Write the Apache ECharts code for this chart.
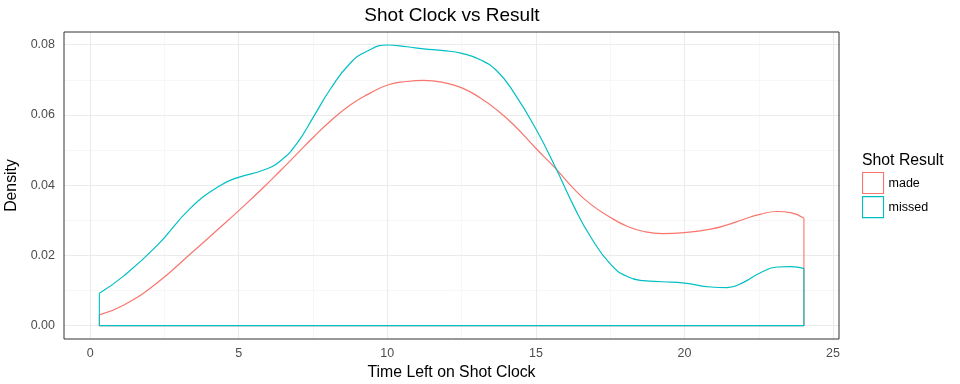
<!DOCTYPE html>
<html>
<head>
<meta charset="utf-8">
<script src="https://cdn.jsdelivr.net/npm/echarts@6/dist/echarts.min.js"></script>
<style>
html,body{margin:0;padding:0;background:#fff;}
#chart{width:960px;height:384px;}
</style>
</head>
<body>
<div id="chart"></div>
<script>
// ---- data ----
var timeLeft = [0.31, 1.12, 2.24, 3.37, 4.38, 5.02, 5.84, 6.4, 6.96, 7.52, 8.08, 8.75, 9.31, 10.01, 10.66, 11.22, 11.9, 12.51, 13.13, 13.69, 14.25, 15.02, 15.69, 16.27, 16.84, 17.51, 18.07, 18.63, 19.25, 20.0, 20.88, 21.44, 22.0, 22.54, 23.12, 23.57, 24.02];
var madeDensity = [0.00305, 0.0058, 0.0121, 0.0204, 0.028, 0.0329, 0.0394, 0.0441, 0.0489, 0.0537, 0.0582, 0.0628, 0.0657, 0.0685, 0.0695, 0.0698, 0.0692, 0.0677, 0.0648, 0.0614, 0.0572, 0.0503, 0.0445, 0.0390, 0.0346, 0.0308, 0.0283, 0.0268, 0.0262, 0.0265, 0.0275, 0.0287, 0.0303, 0.0317, 0.0325, 0.0322, 0.0306];
var missedDensity = [0.00922, 0.0141, 0.0227, 0.0334, 0.0399, 0.0423, 0.0443, 0.0469, 0.0519, 0.0595, 0.0673, 0.0747, 0.0781, 0.0799, 0.0794, 0.0788, 0.0783, 0.0775, 0.0757, 0.0725, 0.0665, 0.0557, 0.0445, 0.0341, 0.0253, 0.0175, 0.0140, 0.0128, 0.0125, 0.0121, 0.0110, 0.0108, 0.0124, 0.0150, 0.0167, 0.0168, 0.0163];
var xMajorTicks = [0, 5, 10, 15, 20, 25];
var xMinorTicks = [2.5, 7.5, 12.5, 17.5, 22.5];
var yMajorTicks = [0, 0.02, 0.04, 0.06, 0.08];
var yMinorTicks = [0.01, 0.03, 0.05, 0.07];
var seriesNames = ['made', 'missed'];
var seriesColors = ['#F8766D', '#00BFC4'];

// ---- build ----
var FONT = 'Liberation Sans, Arial, Helvetica, sans-serif';
function pairs(xs, ys) { return xs.map(function (x, i) { return [x, ys[i]]; }); }
function edges(xs, ys) {
  var n = xs.length - 1;
  return [[xs[0], ys[0]], [xs[0], 0], [xs[n], 0], [xs[n], ys[n]]];
}
function gridLines(vals, key, width, color, z) {
  return {
    type: 'line', data: [], z: z, silent: true,
    markLine: {
      z: z, silent: true, animation: false, symbol: ['none', 'none'],
      label: { show: false },
      lineStyle: { type: 'solid', width: width, color: color },
      emphasis: { disabled: true },
      data: vals.map(function (v) { var o = {}; o[key] = v; return o; })
    }
  };
}

var dens = [madeDensity, missedDensity];
var series = [
  gridLines(xMinorTicks, 'xAxis', 0.6, '#f2f2f2', 0),
  gridLines(yMinorTicks, 'yAxis', 0.6, '#f2f2f2', 0),
  gridLines(xMajorTicks, 'xAxis', 1.1, '#ebebeb', 1),
  gridLines(yMajorTicks, 'yAxis', 1.1, '#ebebeb', 1)
];
seriesNames.forEach(function (name, i) {
  series.push({
    name: name, type: 'line', smooth: 0.5, showSymbol: false, symbol: 'none',
    z: 10 + i, lineStyle: { color: seriesColors[i], width: 1.2 },
    itemStyle: { color: seriesColors[i] },
    data: pairs(timeLeft, dens[i])
  });
  series.push({
    name: name, type: 'line', smooth: false, showSymbol: false, symbol: 'none',
    z: 10 + i, lineStyle: { color: seriesColors[i], width: 1.1 },
    itemStyle: { color: seriesColors[i] },
    data: edges(timeLeft, dens[i])
  });
});

var chart = echarts.init(document.getElementById('chart'), null, { renderer: 'canvas' });
chart.setOption({
  animation: false,
  backgroundColor: '#fff',
  textStyle: { fontFamily: FONT },
  title: [{
    text: 'Shot Clock vs Result', left: 452, top: 6, padding: 0, textAlign: 'center',
    textStyle: { fontFamily: FONT, fontSize: 19, fontWeight: 'normal', color: '#000' }
  }, {
    text: 'Shot Result', left: 862, top: 153, padding: 0,
    textStyle: { fontFamily: FONT, fontSize: 15.8, fontWeight: 'normal', color: '#000' }
  }],
  legend: {
    orient: 'vertical', left: 862, top: 172, padding: 0,
    itemWidth: 21, itemHeight: 21, itemGap: 2, icon: 'rect',
    selectedMode: false,
    textStyle: { fontFamily: FONT, fontSize: 12.5, color: '#000' },
    data: seriesNames.map(function (n, i) {
      return { name: n, icon: 'rect', itemStyle: { color: '#fff', borderColor: seriesColors[i], borderWidth: 1.1 } };
    })
  },
  grid: {
    left: 64, top: 32, width: 775, height: 307, show: true, z: 20,
    containLabel: false, outerBoundsMode: 'none',
    borderColor: '#333', borderWidth: 1, backgroundColor: 'transparent'
  },
  xAxis: {
    type: 'value', min: -0.88, max: 25.2,
    name: 'Time Left on Shot Clock', nameLocation: 'middle', nameGap: 21,
    nameTextStyle: { fontFamily: FONT, fontSize: 15.8, color: '#000' },
    axisLine: { show: false },
    axisTick: { show: true, length: 3.5, lineStyle: { color: '#333', width: 1 }, customValues: xMajorTicks },
    axisLabel: { margin: 8, fontFamily: FONT, fontSize: 12.5, color: '#4D4D4D', customValues: xMajorTicks },
    splitLine: { show: false }
  },
  yAxis: {
    type: 'value', min: -0.0038, max: 0.0836,
    name: 'Density', nameLocation: 'middle', nameGap: 37, nameRotate: 90,
    nameTextStyle: { fontFamily: FONT, fontSize: 15.8, color: '#000' },
    axisLine: { show: false },
    axisTick: { show: true, length: 3.5, lineStyle: { color: '#333', width: 1 }, customValues: yMajorTicks },
    axisLabel: { margin: 9, fontFamily: FONT, fontSize: 12.5, color: '#4D4D4D', customValues: yMajorTicks,
      formatter: function (v) { return v.toFixed(2); } },
    splitLine: { show: false }
  },
  series: series
});
</script>
</body>
</html>
